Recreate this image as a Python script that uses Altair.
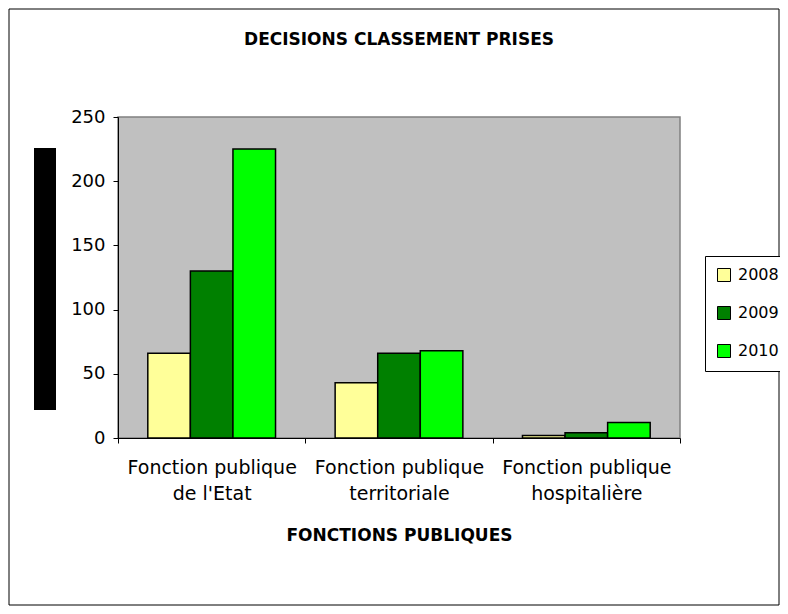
import altair as alt
import pandas as pd

categories = ["Fonction publique|de l'Etat", "Fonction publique|territoriale", "Fonction publique|hospitalière"]
years = ["2008", "2009", "2010"]
v2008 = [66, 43, 2]
v2009 = [130, 66, 4]
v2010 = [225, 68, 12]
colors = ["#FFFF99", "#008000", "#00FF00"]

rows = []
for i, c in enumerate(categories):
    for y, vals in zip(years, [v2008, v2009, v2010]):
        rows.append({"cat": c, "year": y, "value": vals[i]})
df = pd.DataFrame(rows)

FONT = "DejaVu Sans"

bars = alt.Chart(df).mark_bar(stroke="black", strokeWidth=1.5).encode(
    x=alt.X("cat:N", sort=categories,
            scale=alt.Scale(paddingInner=0, paddingOuter=0),
            axis=alt.Axis(title="FONCTIONS PUBLIQUES", labelAngle=0,
                          labelExpr="split(datum.label, '|')",
                          labelFont=FONT, labelFontSize=19, labelColor="black",
                          labelLineHeight=26, labelPadding=15, labelBaseline="top",
                          tickBand="extent", tickColor="black", tickSize=5,
                          domainColor="black", titleFont=FONT, titleFontSize=17,
                          titleFontWeight="bold", titleColor="black", titlePadding=24)),
    xOffset=alt.XOffset("year:N", scale=alt.Scale(paddingOuter=0.7, paddingInner=0)),
    y=alt.Y("value:Q", scale=alt.Scale(domain=[0, 250], nice=False),
            axis=alt.Axis(title=None, values=[0, 50, 100, 150, 200, 250], grid=False,
                          labelFont=FONT, labelFontSize=18, labelColor="black",
                          labelPadding=8, tickColor="black", tickSize=5,
                          domainColor="black")),
    fill=alt.Fill("year:N", scale=alt.Scale(domain=years, range=colors),
                  legend=alt.Legend(title=None, orient="none", legendX=587, legendY=139,
                                    strokeColor="black", fillColor="white", padding=11,
                                    symbolType="square", symbolSize=169,
                                    symbolStrokeColor="black", symbolStrokeWidth=1,
                                    labelFont=FONT, labelFontSize=16, labelColor="black",
                                    rowPadding=20, labelOffset=6)),
)

one = pd.DataFrame({"a": [0]})
border = alt.Chart(one).mark_rect(fill="white", fillOpacity=0, stroke="black", strokeWidth=1).encode(
    x=alt.value(-109), x2=alt.value(661), y=alt.value(-108), y2=alt.value(488))
blackbox = alt.Chart(one).mark_rect(fill="black").encode(
    x=alt.value(-84), x2=alt.value(-62), y=alt.value(31), y2=alt.value(293))

chart = alt.layer(border, bars, blackbox).properties(
    width=562, height=321,
    title=alt.TitleParams("DECISIONS CLASSEMENT PRISES", font=FONT, fontSize=17,
                          fontWeight="bold", color="black", frame="group",
                          anchor="middle", offset=-40),
    autosize=alt.AutoSizeParams(type="none"),
    padding={"left": 110, "top": 109, "right": 100, "bottom": 168},
    background="white",
).configure_view(fill="#C0C0C0", stroke="#808080", strokeWidth=1.5)

chart.save("out.html", embed_options={"renderer": "svg", "actions": False})
